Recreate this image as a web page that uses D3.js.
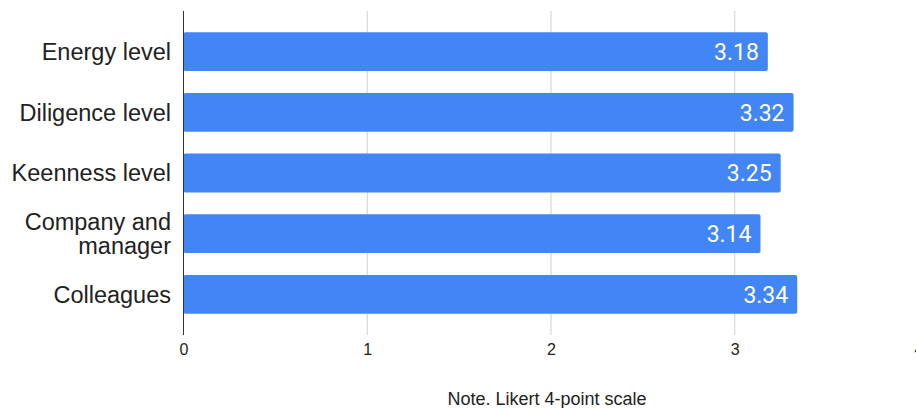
<!DOCTYPE html>
<html><head><meta charset="utf-8">
<script src="https://cdn.jsdelivr.net/npm/d3@7"></script>
<style>body{margin:0;background:#fff}svg{display:block}</style>
</head><body>
<svg id="c" width="916" height="408"></svg>
<script>
const categories = ["Energy level", "Diligence level", "Keenness level", "Company and manager", "Colleagues"];
const categoryLines = [["Energy level"], ["Diligence level"], ["Keenness level"], ["Company and", "manager"], ["Colleagues"]];
const values = [3.18, 3.32, 3.25, 3.14, 3.34];
const tickValues = [0, 1, 2, 3, 4];
const tickLabels = ["0", "1", "2", "3", "4"];
const note = "Note. Likert 4-point scale";

const svg = d3.select("#c");
const x = d3.scaleLinear().domain([0, 4]).range([183.5, 918.5]);
const y = d3.scaleBand().domain(categories).range([11, 335]).paddingInner(0.36).paddingOuter(0.35);

// gridlines
svg.append("g").selectAll("line").data(tickValues.slice(1)).join("line")
  .attr("x1", d => x(d)).attr("x2", d => x(d)).attr("y1", 11).attr("y2", 335)
  .attr("stroke", "#d0d0d0").attr("stroke-width", 1);

// bars
svg.append("g").selectAll("rect").data(values).join("rect")
  .attr("x", x(0)).attr("y", (d, i) => y(categories[i]))
  .attr("width", d => x(d) - x(0)).attr("height", y.bandwidth())
  .attr("rx", 2).attr("fill", "#4285F4");

// value labels
svg.append("g").selectAll("text").data(values).join("text")
  .attr("x", d => x(d) - 9).attr("y", (d, i) => y(categories[i]) + y.bandwidth() / 2)
  .attr("dy", "0.36em").attr("text-anchor", "end")
  .attr("font-family", "Roboto, sans-serif").attr("font-size", 23).attr("fill", "#fff")
  .text(d => d.toFixed(2));

// axis line
svg.append("line").attr("x1", x(0)).attr("x2", x(0)).attr("y1", 11).attr("y2", 335)
  .attr("stroke", "#333").attr("stroke-width", 1);

// x tick labels
const xAxis = d3.axisBottom(x).tickValues(tickValues).tickFormat((d, i) => tickLabels[i]).tickSize(0).tickPadding(0);
const gx = svg.append("g").attr("transform", "translate(0,344)").call(xAxis);
gx.select(".domain").remove();
gx.selectAll("text").attr("font-family", "'Liberation Sans', Arial, sans-serif").attr("font-size", 16).attr("fill", "#222");

// category labels
const gy = svg.append("g");
categoryLines.forEach((lines, i) => {
  const cy = y(categories[i]) + y.bandwidth() / 2;
  const lh = 24;
  lines.forEach((ln, j) => {
    gy.append("text").attr("x", 171)
      .attr("y", cy + (j - (lines.length - 1) / 2) * lh)
      .attr("dy", "0.36em").attr("text-anchor", "end")
      .attr("font-family", "'Liberation Sans', Arial, sans-serif").attr("font-size", 23.5).attr("fill", "#222")
      .text(ln);
  });
});

// note
svg.append("text").attr("x", 547).attr("y", 405)
  .attr("text-anchor", "middle").attr("font-family", "'Liberation Sans', Arial, sans-serif").attr("font-size", 18).attr("fill", "#222")
  .text(note);
</script>
</body></html>
